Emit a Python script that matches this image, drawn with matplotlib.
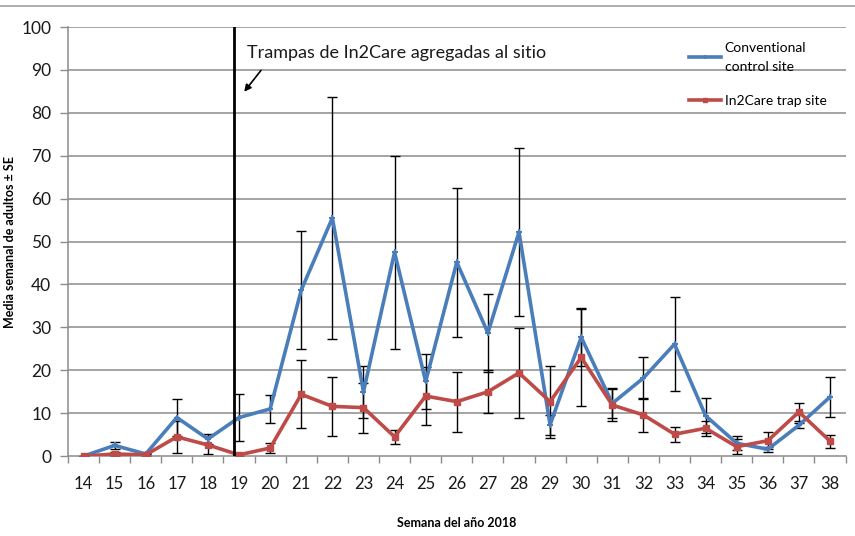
import numpy as np
import matplotlib
matplotlib.use("Agg")
import matplotlib.pyplot as plt
from matplotlib.lines import Line2D

plt.rcParams['font.family'] = ['Lato', 'DejaVu Sans']

weeks = list(range(14, 39))
control = [0, 2.5, 0.5, 9, 4, 9, 11, 38.7, 55.5, 15, 47.5, 17.4, 45.2, 28.7, 52.2,
           7.3, 27.7, 12.3, 18.2, 26.1, 9.4, 3, 1.6, 7.2, 13.8]
control_se = [0, 0.9, 0.3, 4.4, 1.1, 5.5, 3.2, 13.7, 28.1, 6, 22.5, 6.5, 17.4, 9, 19.5,
              2.4, 6.8, 3.5, 5, 10.9, 4.1, 1.6, 0.6, 0.6, 4.6]
trap = [0, 0.5, 0.3, 4.5, 2.6, 0.3, 1.9, 14.4, 11.6, 11.3, 4.5, 14, 12.7, 15, 19.4,
        12.7, 23, 11.9, 9.6, 5.1, 6.5, 2.2, 3.6, 10.3, 3.5]
trap_se = [0, 0.4, 0.2, 3.7, 2.1, 0.2, 1.1, 7.9, 6.9, 5.8, 1.7, 6.8, 7, 5, 10.5,
           8.4, 11.4, 3.7, 3.9, 1.8, 1.8, 1.8, 2, 2.1, 1.5]
yticks = list(range(0, 101, 10))
trap_week = 18.83

blue = '#4A7EBB'
red = '#BE4B48'

fig = plt.figure(figsize=(8.55, 5.36), dpi=100)
ax = fig.add_axes([0.0795, 0.149, 0.9095, 0.8006])

for y in yticks[1:]:
    ax.axhline(y, color='#8c8c8c', lw=1.1, zorder=1)

ax.errorbar(weeks, control, yerr=control_se, fmt='none', ecolor='black',
            elinewidth=1.0, capsize=3.5, capthick=1.0, zorder=2)
ax.errorbar(weeks, trap, yerr=trap_se, fmt='none', ecolor='black',
            elinewidth=1.0, capsize=3.5, capthick=1.0, zorder=2)
ax.plot(weeks, control, color=blue, lw=2.6, marker='+', ms=5, mew=1.5,
        label='Conventional\ncontrol site', zorder=3)
ax.plot(weeks, trap, color=red, lw=2.6, marker='s', ms=4.5,
        label='In2Care trap site', zorder=3)

# linea de la semana en que se agregaron las trampas
ax.axvline(trap_week, color='black', lw=2, zorder=4)
ax.annotate('', xy=(19.11, 84.4), xytext=(19.76, 90.4),
            arrowprops=dict(arrowstyle='-|>', color='black', lw=1.2,
                            mutation_scale=10))
ax.text(19.27, 94.0, 'Trampas de In2Care agregadas al sitio', fontsize=13,
        va='center', ha='left', color='#1a1a1a')

ax.set_xlim(13.5, 38.5)
ax.set_ylim(0, 100)
ax.set_xticks(weeks)
ax.set_xticklabels([str(w) for w in weeks], fontsize=12)
ax.set_xticks(np.arange(13.5, 39, 1), minor=True)
ax.tick_params(axis='x', which='major', length=0, pad=14, colors='#1a1a1a')
ax.tick_params(axis='x', which='minor', length=5, color='#8c8c8c', width=1)
ax.set_yticks(yticks)
ax.tick_params(axis='y', length=6, width=1, labelsize=12.5,
               labelcolor='#1a1a1a', color='#8c8c8c', pad=6)
for s in ['top', 'right']:
    ax.spines[s].set_visible(False)
for s in ['left', 'bottom']:
    ax.spines[s].set_color('#8c8c8c')
    ax.spines[s].set_linewidth(1.1)

ax.set_xlabel('Semana del año 2018', fontsize=9, fontweight='bold', labelpad=18)
ax.set_ylabel('Media semanal de adultos ± SE', fontsize=9, fontweight='bold',
              labelpad=4)

leg = ax.legend(loc='upper left', bbox_to_anchor=(0.782, 0.995), frameon=False,
                fontsize=10, handlelength=2.3, handletextpad=0.3,
                labelspacing=1.6, markerscale=0.6)
leg.get_texts()[0].set_linespacing(1.7)

fig.add_artist(Line2D([0, 1], [0.989, 0.989], color='#a0a0a0', lw=1.2,
                      transform=fig.transFigure))

fig.savefig('out.png', dpi=100)
